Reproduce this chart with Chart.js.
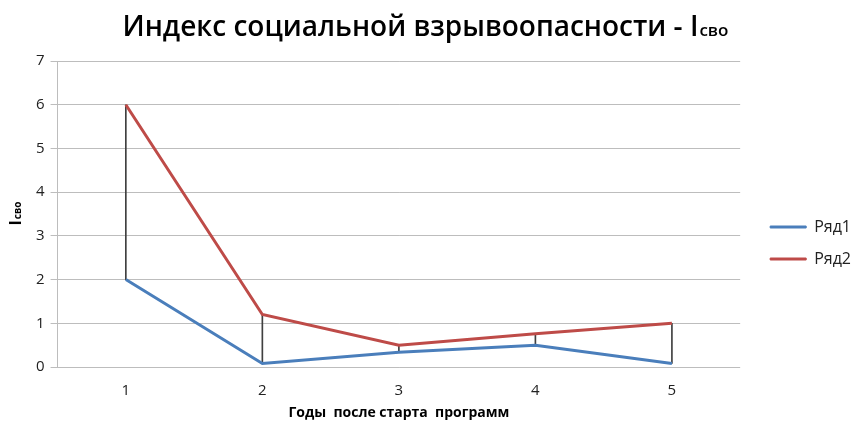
<!DOCTYPE html>
<html>
<head>
<meta charset="utf-8">
<script src="https://cdn.jsdelivr.net/npm/chart.js@4"></script>
<style>
  html, body { margin: 0; padding: 0; background: #fff; }
  #wrap { width: 852px; height: 422px; }
</style>
</head>
<body>
<div id="wrap"><canvas id="myChart"></canvas></div>
<script>
// data
var years = ["1", "2", "3", "4", "5"];
var row1 = [2, 0.08, 0.34, 0.5, 0.08];
var row2 = [6, 1.2, 0.5, 0.76, 1.0];
var yTicks = [0, 1, 2, 3, 4, 5, 6, 7];

var titleMain = "Индекс социальной взрывоопасности - I";
var titleSub = "сво";
var xTitle = "Годы  после старта  программ";

// high-low lines between the two rows
var hiLow = [];
for (var i = 0; i < years.length; i++) {
  hiLow.push([Math.min(row1[i], row2[i]), Math.max(row1[i], row2[i])]);
}

// "I" + small "сво" (chart title and y-axis title)
function subText(ctx, x, y, main, sub, size, weight, font, rotate) {
  ctx.save();
  ctx.translate(x, y);
  if (rotate) ctx.rotate(-Math.PI / 2);
  var big = weight + " " + size + "px " + font;
  var small = weight + " " + Math.round(size * 0.62) + "px " + font;
  ctx.font = big;
  var w1 = ctx.measureText(main).width;
  ctx.font = small;
  var w2 = ctx.measureText(sub).width;
  var left = -(w1 + w2) / 2;
  ctx.fillStyle = "#000";
  ctx.textBaseline = "alphabetic";
  ctx.textAlign = "left";
  ctx.font = big;
  ctx.fillText(main, left, size * 0.36);
  ctx.font = small;
  ctx.fillText(sub, left + w1 + 1, size * 0.36);
  ctx.restore();
}

const subTitles = {
  id: "subTitles",
  afterLayout(chart) {
    // nudge legend a bit right and down, like the original
    const lg = chart.legend;
    lg.left += 14; lg.right += 14;
    lg.top += 9; lg.bottom += 9;
  },
  afterDraw(chart) {
    const c = chart.ctx;
    const a = chart.chartArea;
    subText(c, 425, 26, titleMain, titleSub, 28, "600", "'Open Sans', sans-serif", false);
    subText(c, 15, 214, "I", titleSub, 16, "bold", "'Open Sans', sans-serif", true);
    c.save();
    c.font = "bold 14px 'Open Sans', sans-serif";
    c.fillStyle = "#000";
    c.textAlign = "center";
    c.textBaseline = "middle";
    c.fillText(xTitle, (a.left + a.right) / 2, 413);
    c.restore();
  }
};

const ctx = document.getElementById("myChart");

const data = {
  labels: years,
  datasets: [
    {
      type: "line",
      label: "Ряд1",
      data: row1,
      borderColor: "#4a7ebb",
      backgroundColor: "#4a7ebb",
      borderWidth: 3,
      pointRadius: 0,
      tension: 0
    },
    {
      type: "line",
      label: "Ряд2",
      data: row2,
      borderColor: "#be4b48",
      backgroundColor: "#be4b48",
      borderWidth: 3,
      pointRadius: 0,
      tension: 0
    },
    {
      type: "bar",
      label: "hilow",
      data: hiLow,
      backgroundColor: "#404040",
      barThickness: 1
    }
  ]
};

const defaultLabels = Chart.defaults.plugins.legend.labels.generateLabels;

const config = {
  data: data,
  options: {
    responsive: true,
    maintainAspectRatio: false,
    animation: false,
    layout: { padding: { top: 61, left: 30, right: 5, bottom: 15 } },
    plugins: {
      title: { display: false },
      tooltip: { enabled: false },
      legend: {
        position: "right",
        labels: {
          generateLabels: (chart) => defaultLabels(chart).map((it) => { it.lineWidth = 1; return it; }),
          filter: (item) => item.text !== "hilow",
          sort: (a, b) => a.datasetIndex - b.datasetIndex,
          boxWidth: 36,
          boxHeight: 2,
          padding: 16,
          color: "#222",
          font: { size: 16, family: "'Open Sans', sans-serif" }
        }
      }
    },
    scales: {
      x: {
        grid: { display: false },
        border: { display: false },
        ticks: {
          color: "#222",
          padding: 7,
          font: { size: 15, family: "'Open Sans', sans-serif" }
        }
      },
      y: {
        min: 0,
        max: 7,
        afterBuildTicks: (axis) => { axis.ticks = yTicks.map((v) => ({ value: v })); },
        grid: { color: "#bdbdbd", lineWidth: 1, tickLength: 7 },
        border: { color: "#bdbdbd" },
        ticks: {
          color: "#222",
          padding: 6,
          font: { size: 15, family: "'Open Sans', sans-serif" }
        }
      }
    }
  },
  plugins: [subTitles]
};

const myChart = new Chart(ctx, config);
</script>
</body>
</html>
